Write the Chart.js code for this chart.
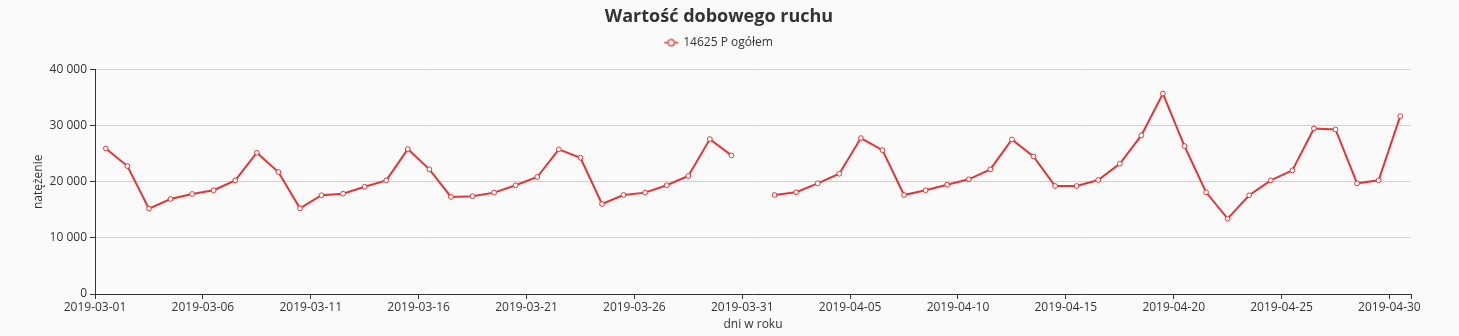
<!DOCTYPE html>
<html>
<head>
<meta charset="utf-8">
<script src="https://cdn.jsdelivr.net/npm/chart.js@4.4.1/dist/chart.umd.min.js"></script>
<style>
html,body{margin:0;padding:0;background:#fafafa;}
#wrap{width:1459px;height:336px;position:relative;}
</style>
</head>
<body>
<div id="wrap"><canvas id="c" width="1459" height="336"></canvas></div>
<script>
const dates = ["2019-03-01","2019-03-02","2019-03-03","2019-03-04","2019-03-05","2019-03-06","2019-03-07","2019-03-08","2019-03-09","2019-03-10",
"2019-03-11","2019-03-12","2019-03-13","2019-03-14","2019-03-15","2019-03-16","2019-03-17","2019-03-18","2019-03-19","2019-03-20",
"2019-03-21","2019-03-22","2019-03-23","2019-03-24","2019-03-25","2019-03-26","2019-03-27","2019-03-28","2019-03-29","2019-03-30",
"2019-03-31","2019-04-01","2019-04-02","2019-04-03","2019-04-04","2019-04-05","2019-04-06","2019-04-07","2019-04-08","2019-04-09",
"2019-04-10","2019-04-11","2019-04-12","2019-04-13","2019-04-14","2019-04-15","2019-04-16","2019-04-17","2019-04-18","2019-04-19",
"2019-04-20","2019-04-21","2019-04-22","2019-04-23","2019-04-24","2019-04-25","2019-04-26","2019-04-27","2019-04-28","2019-04-29",
"2019-04-30"];
const values = [25950,22810,15220,16940,17830,18490,20260,25180,21740,15280,
17600,17890,19130,20260,25830,22220,17300,17420,18070,19380,
20850,25780,24290,16050,17650,18070,19380,21030,27610,24710,
null,17650,18130,19730,21440,27790,25650,17650,18490,19490,
20440,22220,27550,24530,19250,19250,20320,23220,28270,35730,
26360,18130,13440,17600,20260,22040,29510,29330,19730,20260,
31700];
const seriesName = "14625 P ogółem";
const chartTitle = "Wartość dobowego ruchu";
const xTitle = "dni w roku";
const yTitle = "natężenie";
const yTicks = [0,10000,20000,30000,40000];
const xTickStep = 5;

const RED = '#e33535';
const FONT = "'Open Sans', sans-serif";

// legend icon: line with hollow circle
const icon = document.createElement('canvas');
icon.width = 16; icon.height = 10;
(function(){
  const g = icon.getContext('2d');
  g.strokeStyle = RED; g.lineWidth = 1.5;
  g.beginPath(); g.moveTo(1,5); g.lineTo(15,5); g.stroke();
  g.beginPath(); g.arc(8,5,3.2,0,Math.PI*2);
  g.fillStyle = '#fff'; g.fill(); g.lineWidth = 1.2; g.stroke();
})();

const pts = values.map((v,i)=>({x:i+0.5,y:v}));

function fmt(n){ return String(n).replace(/\B(?=(\d{3})+(?!\d))/g,' '); }

const legendGap = {
  id: 'legendGap',
  afterInit(chart){
    const lg = chart.legend;
    if (!lg) return;
    const orig = lg.fit.bind(lg);
    lg.fit = function(){ orig(); this.height += 11; };
  }
};

new Chart(document.getElementById('c'), {
  type: 'line',
  data: {
    datasets: [{
      label: seriesName,
      data: pts,
      borderColor: RED,
      backgroundColor: '#fff',
      borderWidth: 2,
      pointRadius: 2.4,
      pointBorderWidth: 1,
      pointBackgroundColor: '#fff',
      pointBorderColor: RED,
      tension: 0,
      spanGaps: false
    }]
  },
  plugins: [legendGap],
  options: {
    responsive: false,
    animation: false,
    events: [],
    layout: { padding: { left: 27, right: 48, top: 6, bottom: 2 } },
    plugins: {
      title: {
        display: true, text: chartTitle, color: '#333',
        font: { family: FONT, size: 18, weight: 'bold' },
        padding: { top: 0, bottom: 1 }
      },
      legend: {
        display: true,
        labels: {
          color: '#333',
          font: { family: FONT, size: 12 },
          usePointStyle: true,
          boxWidth: 16, boxHeight: 10,
          padding: 8,
          generateLabels: (chart) => chart.data.datasets.map((d,i)=>({
            text: d.label, pointStyle: icon, fontColor: '#333',
            datasetIndex: i, hidden: false, lineWidth: 0, strokeStyle: RED, fillStyle: '#fff'
          }))
        }
      },
      tooltip: { enabled: false }
    },
    scales: {
      x: {
        type: 'linear',
        min: 0, max: dates.length,
        afterBuildTicks: (s) => {
          const t = [];
          for (let v = 0; v < dates.length; v += xTickStep) t.push({value: v});
          t.push({value: dates.length});
          s.ticks = t;
        },
        afterFit: (s) => { s.height = 40; },
        ticks: {
          autoSkip: false, maxRotation: 0, padding: 1,
          color: '#333', font: { family: FONT, size: 12 },
          callback: (v) => (v < dates.length && v % xTickStep === 0) ? dates[v] : ''
        },
        grid: { display: true, drawOnChartArea: false, drawTicks: true, tickLength: 5, tickColor: '#333', color: '#333' },
        border: { display: true, color: '#333', width: 1 },
        title: { display: true, text: xTitle, color: '#333', font: { family: FONT, size: 12 }, padding: { top: 0, bottom: 2 } }
      },
      y: {
        min: 0, max: 40000,
        afterBuildTicks: (s) => { s.ticks = yTicks.map(v=>({value:v})); },
        afterFit: (s) => { s.width = 68; },
        ticks: {
          color: '#333', font: { family: FONT, size: 12 }, padding: 3,
          callback: (v) => fmt(v)
        },
        grid: { color: '#d0d0d0', tickColor: '#333', tickLength: 5, lineWidth: 1 },
        border: { display: true, color: '#333', width: 1 },
        title: { display: true, text: yTitle, color: '#333', font: { family: FONT, size: 12 }, padding: { top: 4, bottom: 4 } }
      }
    }
  }
});
</script>
</body>
</html>
